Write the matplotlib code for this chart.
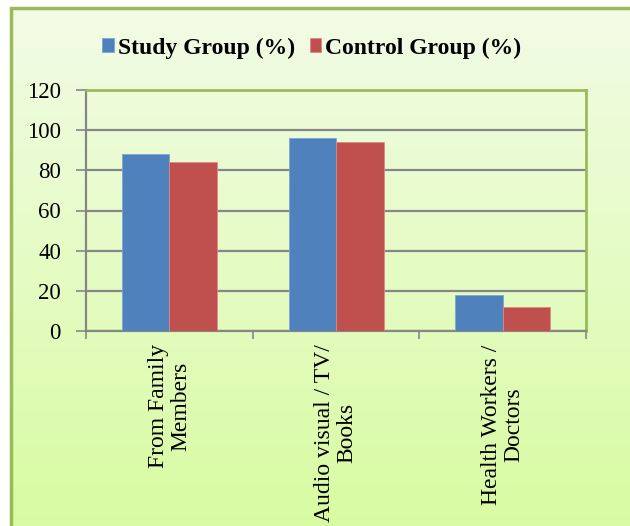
import matplotlib.pyplot as plt
import numpy as np
from matplotlib.patches import Rectangle
from matplotlib.transforms import blended_transform_factory

categories = ["From Family\nMembers", "Audio visual / TV/\nBooks", "Health Workers /\nDoctors"]
study = [88, 96, 18]
control = [84, 94, 12]
series_names = ["Study Group (%)", "Control Group (%)"]
y_ticks = [0, 20, 40, 60, 80, 100, 120]

plt.rcParams['font.family'] = ['Liberation Serif', 'DejaVu Serif']

W, H = 630, 526
fig = plt.figure(figsize=(W / 100, H / 100), dpi=100)

# chart area with a vertical white-to-lime gradient and a green frame
bg = fig.add_axes([11 / W, 0, 1 - 11 / W, 1 - 8 / H])
top_col = np.array([0xF2, 0xFC, 0xE6]) / 255
bot_col = np.array([0xD8, 0xFB, 0xA2]) / 255
t = np.linspace(0, 1, 256)[:, None]
grad = top_col[None, :] * (1 - t) + bot_col[None, :] * t
bg.imshow(grad[:, None, :].repeat(2, axis=1), aspect='auto', extent=[0, 1, 0, 1])
bg.add_patch(Rectangle((0, -0.05), 1.2, 1.05, transform=bg.transAxes, fill=False,
                       edgecolor='#9BBB59', lw=2.5, clip_on=False))
bg.set_xlim(0, 1)
bg.set_ylim(0, 1)
bg.axis('off')

ax = fig.add_axes([86 / W, (H - 331) / H, 500 / W, 241 / H])
ax.patch.set_alpha(0)

x = np.arange(len(categories))
width = 0.285
ax.bar(x - width / 2, study, width, color='#4F81BD', edgecolor='#7FA6D6', lw=0.6,
       label=series_names[0], zorder=3)
ax.bar(x + width / 2, control, width, color='#C0504D', edgecolor='#DA8A88', lw=0.6,
       label=series_names[1], zorder=3)

ax.set_xlim(-0.5, len(categories) - 0.5)
ax.set_ylim(0, 120)
ax.set_yticks(y_ticks)
ax.yaxis.grid(True, color='#868686', lw=1.6, zorder=1)
ax.set_axisbelow(True)

for side in ['top', 'right']:
    ax.spines[side].set_color('#9BBB59')
    ax.spines[side].set_linewidth(2)
for side in ['left', 'bottom']:
    ax.spines[side].set_color('#868686')
    ax.spines[side].set_linewidth(1.6)

ax.tick_params(axis='y', length=7, width=1.2, color='#868686', pad=11,
               labelsize=16.5)
ax.set_xticks(np.arange(len(categories) + 1) - 0.5)
ax.set_xticklabels([])
ax.tick_params(axis='x', length=6, width=1.2, color='#868686')

# category labels, rotated and hanging below the axis
trans = blended_transform_factory(ax.transData, ax.transAxes)
for xi, lab in zip(x, categories):
    ax.text(xi, -0.055, lab, transform=trans, rotation=90, ha='center', va='top',
            multialignment='center', fontsize=17, linespacing=1.1)

fig.legend(loc='center', bbox_to_anchor=(312 / W, 1 - 48 / H), ncol=2,
           frameon=False, prop={'weight': 'bold', 'size': 17},
           handlelength=0.5, handleheight=0.5, handletextpad=0.17,
           columnspacing=0.6)

fig.savefig('out.png', dpi=100)
